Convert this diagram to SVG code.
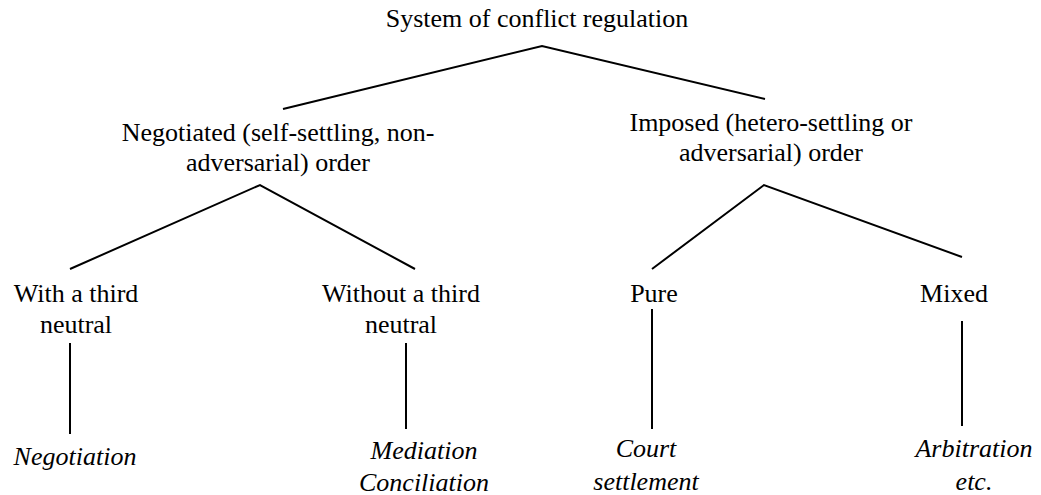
<svg xmlns="http://www.w3.org/2000/svg" width="1041" height="495" viewBox="0 0 1041 495">
  <style>
    text { font-family: 'Liberation Serif', 'Noto Serif', 'DejaVu Serif', serif; font-size: 26px; fill: #000; text-anchor: middle; }
    .it { font-style: italic; }
    .edge { stroke: #000; stroke-width: 2; fill: none; }
  </style>
  <rect width="1041" height="495" fill="#fff"/>

  <!-- tree branches -->
  <g id="connectors">
    <polyline class="edge" points="283,109 542,46 765,99"/>
    <polyline class="edge" points="70,269 260,185 415,269"/>
    <polyline class="edge" points="652,269 764,185 962,257"/>
    <line class="edge" x1="70" y1="343" x2="70" y2="434"/>
    <line class="edge" x1="406" y1="343" x2="406" y2="429"/>
    <line class="edge" x1="652" y1="309" x2="652" y2="429"/>
    <line class="edge" x1="962" y1="321" x2="962" y2="426"/>
  </g>

  <g id="root">
    <text x="537" y="27">System of conflict regulation</text>
  </g>

  <g id="negotiated">
    <text x="278" y="141">Negotiated (self-settling, non-</text>
    <text x="278" y="171">adversarial) order</text>
  </g>

  <g id="imposed">
    <text x="771" y="131">Imposed (hetero-settling or</text>
    <text x="771" y="161">adversarial) order</text>
  </g>

  <g id="with-third">
    <text x="76" y="302">With a third</text>
    <text x="76" y="333">neutral</text>
  </g>

  <g id="without-third">
    <text x="401" y="302">Without a third</text>
    <text x="401" y="333">neutral</text>
  </g>

  <g id="pure">
    <text x="654" y="302">Pure</text>
  </g>

  <g id="mixed">
    <text x="954" y="302">Mixed</text>
  </g>

  <g id="negotiation">
    <text class="it" x="75" y="465">Negotiation</text>
  </g>

  <g id="mediation">
    <text class="it" x="424" y="459">Mediation</text>
    <text class="it" x="424" y="491">Conciliation</text>
  </g>

  <g id="court">
    <text class="it" x="646" y="457">Court</text>
    <text class="it" x="646" y="490">settlement</text>
  </g>

  <g id="arbitration">
    <text class="it" x="974" y="457">Arbitration</text>
    <text class="it" x="974" y="490">etc.</text>
  </g>
</svg>
